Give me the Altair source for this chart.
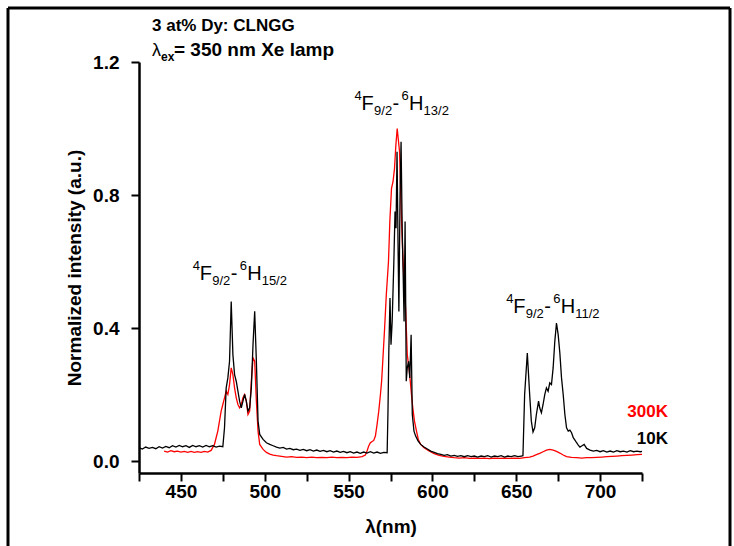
import altair as alt
import pandas as pd

# ---------------- data ----------------
# 10 K spectrum (black): (wavelength nm, normalized intensity)
k10_a = [(425, 0.040), (427, 0.036), (429, 0.042), (431, 0.038), (433, 0.041), (435, 0.037),
         (437, 0.043), (439, 0.039), (441, 0.044), (443, 0.040), (445, 0.046), (447, 0.042),
         (449, 0.047), (451, 0.043), (453, 0.046), (455, 0.041), (457, 0.047), (459, 0.043),
         (461, 0.046), (463, 0.042), (465, 0.047), (467, 0.043), (469, 0.046), (471, 0.042),
         (473, 0.045), (475, 0.043)]
k10_b = [(476, 0.10), (477, 0.22), (478, 0.25), (479, 0.30), (480, 0.48), (481, 0.32),
         (482, 0.26), (483, 0.24), (484, 0.21), (485, 0.18), (486, 0.16), (487, 0.18),
         (488, 0.20), (489, 0.18), (490, 0.15), (491, 0.16), (492, 0.22), (493, 0.35),
         (494, 0.45), (495, 0.30), (496, 0.12), (497, 0.08)]
k10_c = [(499, 0.065), (501, 0.055), (503, 0.050), (505, 0.046), (507, 0.042), (509, 0.039),
         (511, 0.041), (513, 0.036), (515, 0.038), (517, 0.034), (519, 0.036), (521, 0.032),
         (523, 0.035), (525, 0.031), (527, 0.034), (529, 0.030), (531, 0.033), (533, 0.029),
         (535, 0.032), (537, 0.028), (539, 0.031), (541, 0.027), (543, 0.030), (545, 0.026),
         (547, 0.029), (549, 0.025), (551, 0.028), (553, 0.024), (555, 0.027), (557, 0.023),
         (559, 0.027), (561, 0.024), (563, 0.028), (565, 0.024), (567, 0.027), (569, 0.023),
         (571, 0.026)]
k10_d = [(573, 0.025), (573.5, 0.15), (574, 0.33), (574.7, 0.49), (575.3, 0.35), (576, 0.42),
         (577, 0.60), (577.7, 0.75), (578.3, 0.70), (578.9, 0.93), (579.5, 0.65), (580, 0.45),
         (580.7, 0.80), (581.3, 0.96), (582, 0.69), (582.6, 0.55), (583.1, 0.42), (583.7, 0.72),
         (584.4, 0.24), (585, 0.28), (585.8, 0.30), (586.5, 0.25), (587.3, 0.38), (588, 0.14),
         (589, 0.09), (590, 0.075), (591.5, 0.06), (593, 0.05), (595, 0.042), (597, 0.036),
         (599, 0.030)]
k10_e = [(601, 0.026), (603, 0.022), (605, 0.020), (607, 0.017), (609, 0.019), (611, 0.015),
         (613, 0.017), (615, 0.014), (617, 0.016), (619, 0.013), (621, 0.016), (623, 0.013),
         (625, 0.015), (627, 0.012), (629, 0.015), (631, 0.013), (633, 0.016), (635, 0.012),
         (637, 0.015), (639, 0.013), (641, 0.016), (643, 0.012), (645, 0.015), (647, 0.013),
         (649, 0.016), (651, 0.013), (653, 0.015)]
k10_f = [(654, 0.016), (655, 0.20), (656.6, 0.325), (658, 0.20), (659, 0.12), (660, 0.087),
         (661, 0.10), (662, 0.14), (663.3, 0.18), (664, 0.16), (665, 0.145), (666, 0.17),
         (667, 0.20), (668, 0.22), (669, 0.21), (670, 0.235), (671, 0.23), (672, 0.28),
         (673, 0.36), (674, 0.415), (675, 0.38), (676, 0.325), (677, 0.25), (678, 0.20),
         (679, 0.14), (680, 0.10), (681, 0.09), (682, 0.093), (683, 0.085), (684, 0.07),
         (685, 0.063), (686, 0.055), (687, 0.048), (688, 0.042), (689, 0.045), (690.5, 0.050),
         (692, 0.038), (694, 0.033)]
k10_g = [(696, 0.030), (698, 0.032), (700, 0.028), (702, 0.031), (704, 0.027), (706, 0.030),
         (708, 0.027), (710, 0.031), (712, 0.028), (714, 0.030), (716, 0.027), (718, 0.031),
         (720, 0.028), (722, 0.030), (724, 0.028), (725, 0.029)]

# 300 K spectrum (red)
k300_a = [(440, 0.030), (442, 0.027), (444, 0.031), (446, 0.028), (448, 0.030), (450, 0.027),
          (452, 0.029), (454, 0.026), (456, 0.029), (458, 0.026), (460, 0.028), (462, 0.026),
          (464, 0.029), (466, 0.027), (468, 0.032)]
k300_b = [(470, 0.05), (471, 0.07), (472, 0.09), (473, 0.12), (474, 0.15), (475, 0.17),
          (476, 0.19), (477, 0.21), (478, 0.20), (479, 0.23), (480, 0.28), (481, 0.26),
          (482, 0.22), (483, 0.19), (484, 0.17), (485, 0.16), (486, 0.17), (487, 0.19),
          (488, 0.20), (489, 0.18), (490, 0.14), (491, 0.15), (492, 0.24), (493, 0.31),
          (494, 0.30), (495, 0.18), (496, 0.09), (497, 0.05)]
k300_c = [(499, 0.035), (501, 0.026), (503, 0.021), (505, 0.018), (507, 0.016), (510, 0.014),
          (513, 0.012), (516, 0.013), (519, 0.011), (522, 0.012), (525, 0.010), (528, 0.012),
          (531, 0.010), (534, 0.011), (537, 0.010), (540, 0.012), (543, 0.010), (546, 0.011),
          (549, 0.010), (552, 0.012), (555, 0.011), (558, 0.013), (560, 0.018), (561, 0.03),
          (562, 0.045), (563, 0.055), (565, 0.062), (566, 0.075), (567, 0.11), (568, 0.15),
          (569, 0.20), (569.7, 0.24), (570.5, 0.31), (571.5, 0.40), (572.5, 0.50), (573.8, 0.60),
          (574.6, 0.72), (575.6, 0.82), (576.5, 0.84), (577.4, 0.88), (578.2, 0.95), (579, 1.00),
          (579.6, 0.97), (580.4, 0.93), (581, 0.82), (581.6, 0.72), (582.2, 0.64), (582.8, 0.57),
          (583.4, 0.50), (584, 0.46), (585, 0.32), (586, 0.28), (586.8, 0.24), (587.5, 0.20),
          (588.3, 0.16), (589.3, 0.12), (590.5, 0.09), (591.6, 0.065), (593, 0.05), (595, 0.04),
          (598, 0.03), (601, 0.022), (604, 0.017), (607, 0.014), (610, 0.012)]
k300_d = [(613, 0.010), (616, 0.009), (619, 0.010), (622, 0.008), (625, 0.009), (628, 0.008),
          (631, 0.009), (634, 0.007), (637, 0.009), (640, 0.008), (643, 0.009), (646, 0.008),
          (649, 0.009), (652, 0.008), (655, 0.010), (658, 0.012), (660, 0.015), (662, 0.019),
          (664, 0.023), (666, 0.028), (668, 0.033), (670, 0.035), (672, 0.033), (674, 0.029),
          (676, 0.024), (678, 0.018), (680, 0.013), (683, 0.011), (686, 0.010), (689, 0.009),
          (692, 0.010), (695, 0.010), (698, 0.011), (701, 0.012), (704, 0.013), (707, 0.014),
          (710, 0.015), (713, 0.016), (716, 0.017), (719, 0.018), (722, 0.019), (725, 0.020)]

x_ticks = [425, 450, 475, 500, 525, 550, 575, 600, 625, 650, 675, 700, 725]
y_ticks = [0.0, 0.4, 0.8, 1.2]
x_domain = [425, 725]
y_domain = [-0.036, 1.2]

# transition labels: 4F9/2 - 6H(J)
trans_j = ["15/2", "13/2", "11/2"]
trans_wl = [457.0, 553.6, 644.0]
trans_int = [0.544, 1.056, 0.445]

series_names = ["300K", "10K"]
series_colors = ["#ff0000", "#000000"]

# ---------------- build tables ----------------
def to_df(pairs, name):
    return pd.DataFrame({"wl": [p[0] for p in pairs],
                         "I": [p[1] for p in pairs],
                         "series": name})

df10 = to_df(k10_a + k10_b + k10_c + k10_d + k10_e + k10_f + k10_g, "10K")
df300 = to_df(k300_a + k300_b + k300_c + k300_d, "300K")

FONT = "Liberation Sans"
W, H = 503, 411
LEFT, TOP = 139, 62

xs = alt.Scale(domain=x_domain, nice=False, zero=False)
ys = alt.Scale(domain=y_domain, nice=False, zero=False)

x_axis = alt.Axis(values=x_ticks, labelExpr="datum.value % 50 == 0 ? datum.label : ''",
                  title="λ(nm)", titlePadding=16, labelPadding=1)
y_axis = alt.Axis(values=y_ticks, format=".1f", title="Normalized intensity (a.u.)",
                  titlePadding=8, labelPadding=12)

def X(field):
    return alt.X(field, type="quantitative", scale=xs, axis=x_axis)

def Y(field):
    return alt.Y(field, type="quantitative", scale=ys, axis=y_axis)

red_line = alt.Chart(df300).mark_line(color=series_colors[0], strokeWidth=1.3).encode(
    x=X("wl"), y=Y("I"))
black_line = alt.Chart(df10).mark_line(color=series_colors[1], strokeWidth=1.3).encode(
    x=X("wl"), y=Y("I"))

# transition label pieces: (text, dx, dy, size)
pieces = [("4", 0, -10, 13), ("F", 7, 0, 20), ("9/2", 19.5, 5, 13), ("-", 38, 0, 20),
          ("6", 47, -10, 13), ("H", 54.5, 0, 20), (None, 69, 5, 13)]
label_layers = []
for txt, dx, dy, size in pieces:
    dfp = pd.DataFrame({"x": trans_wl, "y": trans_int,
                        "t": trans_j if txt is None else [txt] * len(trans_wl)})
    label_layers.append(
        alt.Chart(dfp).mark_text(align="left", baseline="alphabetic", dx=dx, dy=dy,
                                 fontSize=size, font=FONT, color="black").encode(
            x=X("x"), y=Y("y"), text="t:N"))

one = pd.DataFrame({"a": [0]})

def ptext(text, x, y, size=17, weight="bold", color="black", align="left"):
    return alt.Chart(one).mark_text(text=text, align=align, baseline="alphabetic",
                                    fontSize=size, fontWeight=weight, font=FONT,
                                    color=color).encode(x=alt.value(x), y=alt.value(y))

header = [
    ptext("3 at% Dy: CLNGG", 13, -31),
    ptext("λ", 13, -6, size=18, weight="normal"),
    ptext("ex", 22, -1, size=12),
    ptext("= 350 nm Xe lamp", 35, -6, size=19),
]
legend = [
    ptext(series_names[0], 529, 355, color=series_colors[0], align="right"),
    ptext(series_names[1], 529, 382, color=series_colors[1], align="right"),
]

def rule(x, x2, y, y2):
    return alt.Chart(one).mark_rule(color="black", strokeWidth=3).encode(
        x=alt.value(x), x2=alt.value(x2), y=alt.value(y), y2=alt.value(y2))

frame = [
    rule(-131, 591, -54, -54),
    rule(-131, -131, -54, 500),
    rule(591, 591, -54, 500),
]

chart = alt.layer(red_line, black_line, *label_layers, *header, *legend, *frame).properties(
    width=W, height=H,
    autosize=alt.AutoSizeParams(type="none"),
    padding={"left": LEFT, "top": TOP, "right": 734 - LEFT - W, "bottom": 546 - TOP - H},
    background="white",
).configure_view(stroke=None).configure_axis(
    grid=False,
    domainColor="black", domainWidth=2.5,
    tickColor="black", tickWidth=2, tickSize=8,
    labelFont=FONT, labelFontSize=19, labelFontWeight="bold", labelColor="black",
    titleFont=FONT, titleFontSize=19, titleFontWeight="bold", titleColor="black",
)

chart.save("out.html", embed_options={"renderer": "svg", "actions": False})
